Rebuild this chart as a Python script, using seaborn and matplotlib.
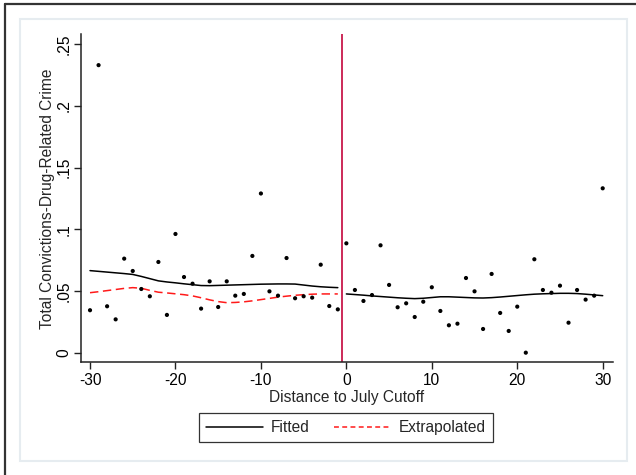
import numpy as np
import pandas as pd
import matplotlib
matplotlib.use("Agg")
import matplotlib.pyplot as plt
from matplotlib.lines import Line2D
from matplotlib.patches import Rectangle
import seaborn as sns

# ---- data ----
dist = list(range(-30, 31))
rate = [0.0344, 0.233, 0.0376, 0.027, 0.0762, 0.0662, 0.0516, 0.0457, 0.0735, 0.0306,
        0.0962, 0.0613, 0.0559, 0.0357, 0.0578, 0.037, 0.0578, 0.0462, 0.0476, 0.0784,
        0.129, 0.0497, 0.0462, 0.0767, 0.0441, 0.0457, 0.0446, 0.0713, 0.0378, 0.0351,
        0.0886, 0.0508, 0.0419, 0.0467, 0.087, 0.0549, 0.0368, 0.040, 0.0289, 0.0413,
        0.053, 0.0338, 0.0222, 0.0235, 0.0605, 0.0497, 0.0192, 0.0638, 0.0322, 0.0176,
        0.0373, 0.0, 0.0757, 0.0508, 0.0486, 0.0543, 0.0243, 0.0508, 0.043, 0.0462,
        0.1332]

left_x = list(range(-30, 0))
fitted_left = [0.0665, 0.0659, 0.0653, 0.0647, 0.0641, 0.0634, 0.0618, 0.0600, 0.0582, 0.0573,
               0.0566, 0.0558, 0.0551, 0.0544, 0.0543, 0.0545, 0.0547, 0.0549, 0.0551, 0.0553,
               0.0555, 0.0556, 0.0557, 0.0557, 0.0556, 0.0548, 0.0540, 0.0534, 0.0530, 0.0527]
extrapolated_left = [0.0486, 0.0494, 0.0503, 0.0512, 0.0521, 0.0527, 0.0522, 0.0505, 0.0490, 0.0484,
                     0.0477, 0.0470, 0.0460, 0.0445, 0.0428, 0.0414, 0.0405, 0.0407, 0.0412, 0.0420,
                     0.0430, 0.0440, 0.0450, 0.0458, 0.0465, 0.0470, 0.0474, 0.0476, 0.0476, 0.0476]
right_x = list(range(0, 31))
fitted_right = [0.0476, 0.0471, 0.0466, 0.0460, 0.0455, 0.0450, 0.0445, 0.0441, 0.0438, 0.0441,
                0.0447, 0.0453, 0.0453, 0.0450, 0.0447, 0.0444, 0.0443, 0.0446, 0.0451, 0.0457,
                0.0463, 0.0469, 0.0474, 0.0477, 0.0479, 0.0481, 0.0481, 0.0479, 0.0474, 0.0468,
                0.0462]
cutoff = -0.5

x_ticks = [-30, -20, -10, 0, 10, 20, 30]
y_ticks = [0, 0.05, 0.1, 0.15, 0.2, 0.25]
y_tick_labels = ["0", ".05", ".1", ".15", ".2", ".25"]

# ---- style ----
sns.set_style("ticks")
plt.rcParams['font.family'] = ['Liberation Sans', 'DejaVu Sans']
FS = 11.2
plt.rcParams['font.size'] = FS

fig = plt.figure(figsize=(6.36, 4.75), dpi=100)
ax = fig.add_axes([80.7/636, 1 - 362.3/475, (612.7 - 80.7)/636, (362.3 - 34.3)/475])

# frame of the surrounding window
fig.add_artist(Line2D([5/636, 1], [1 - 4/475, 1 - 4/475], transform=fig.transFigure,
                      color="#333333", lw=1.6))
fig.add_artist(Line2D([5/636, 5/636], [0, 1 - 4/475], transform=fig.transFigure,
                      color="#333333", lw=1.6))
# graph region
fig.add_artist(Rectangle((20/636, 1 - 461/475), (627 - 20)/636, (461 - 19)/475,
                         transform=fig.transFigure, fill=False, edgecolor="#E6ECF0", lw=1.5))

df_pts = pd.DataFrame({"dist": dist, "rate": rate})
df_fl = pd.DataFrame({"dist": left_x, "val": fitted_left})
df_el = pd.DataFrame({"dist": left_x, "val": extrapolated_left})
df_fr = pd.DataFrame({"dist": right_x, "val": fitted_right})

sns.scatterplot(data=df_pts, x="dist", y="rate", ax=ax, color="black", s=9,
                edgecolor="none", zorder=3, legend=False)
sns.lineplot(data=df_fl, x="dist", y="val", ax=ax, color="black", lw=1.1)
sns.lineplot(data=df_fr, x="dist", y="val", ax=ax, color="black", lw=1.1)
sns.lineplot(data=df_el, x="dist", y="val", ax=ax, color="#FF1A1A", lw=1.1)
ax.lines[-1].set_dashes([5.5, 3])
ax.axvline(cutoff, color="#C8194B", lw=1.3, zorder=2)

ax.set_xlim(-31.09, 31.17)
ax.set_ylim(-0.0078, 0.258)
ax.set_xticks(x_ticks)
ax.set_xticklabels([str(t) for t in x_ticks])
ax.set_yticks(y_ticks)
ax.set_yticklabels(y_tick_labels, rotation=90, va="center")
ax.tick_params(axis="x", direction="out", length=5, width=1, color="#222222",
               labelsize=FS, labelcolor="black", pad=3)
ax.tick_params(axis="y", direction="out", length=5, width=1, color="#222222",
               labelsize=FS, labelcolor="black", pad=1.5)
for s in ["top", "right"]:
    ax.spines[s].set_visible(False)
for s in ["left", "bottom"]:
    ax.spines[s].set_color("#222222")
    ax.spines[s].set_linewidth(1.1)

ax.set_xlabel("Distance to July Cutoff", fontsize=FS, labelpad=1)
ax.set_ylabel("Total Convictions-Drug-Related Crime", fontsize=FS, labelpad=1)

handles = [Line2D([], [], color="black", lw=1.1),
           Line2D([], [], color="#FF1A1A", lw=1.1, dashes=[3.2, 2.2])]
leg = fig.legend(handles, ["Fitted", "Extrapolated"], loc="center",
                 bbox_to_anchor=(346/636, 1 - 427.5/475), ncol=2, frameon=True,
                 fancybox=False, edgecolor="black", handlelength=3.65, handletextpad=0.5,
                 columnspacing=1.6, fontsize=FS, borderpad=0.45)
leg.get_frame().set_linewidth(0.9)

fig.savefig("out.png", dpi=100)
